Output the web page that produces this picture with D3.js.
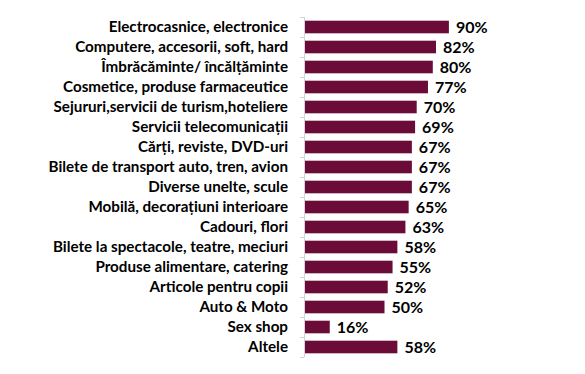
<!DOCTYPE html>
<html>
<head>
<meta charset="utf-8">
<script src="https://cdn.jsdelivr.net/npm/d3@7"></script>
<style>
  body { margin: 0; background: #fff; }
  svg { display: block; }
</style>
</head>
<body>
<svg id="chart" width="585" height="374"></svg>
<script>
const categories = [
    'Electrocasnice, electronice',
    'Computere, accesorii, soft, hard',
    'Îmbrăcăminte/ încălțăminte',
    'Cosmetice, produse farmaceutice',
    'Sejururi,servicii de turism,hoteliere',
    'Servicii telecomunicații',
    'Cărți, reviste, DVD-uri',
    'Bilete de transport auto, tren, avion',
    'Diverse unelte, scule',
    'Mobilă, decorațiuni interioare',
    'Cadouri, flori',
    'Bilete la spectacole, teatre, meciuri',
    'Produse alimentare, catering',
    'Articole pentru copii',
    'Auto & Moto',
    'Sex shop',
    'Altele'
];
const values = [90, 82, 80, 77, 70, 69, 67, 67, 67, 65, 63, 58, 55, 52, 50, 16, 58];

const barColor = '#6a0c37';
const svg = d3.select('#chart');

const x0 = 304;
const x = d3.scaleLinear()
    .domain([0, 100])
    .range([x0, x0 + 161]);

const y = d3.scaleBand()
    .domain(categories)
    .range([17, 357])
    .paddingInner(0.37)
    .paddingOuter(0.185);

// axis line and ticks between bands
svg.append('line')
    .attr('x1', x0 + 0.5).attr('x2', x0 + 0.5)
    .attr('y1', 17).attr('y2', 357)
    .attr('stroke', '#d4d4d4');

const step = y.step();
svg.selectAll('.tick')
    .data(d3.range(categories.length + 1)).enter()
    .append('line')
        .attr('x1', x0 - 4).attr('x2', x0)
        .attr('y1', i => 17 + i * step + 0.5)
        .attr('y2', i => 17 + i * step + 0.5)
        .attr('stroke', '#d4d4d4');

svg.selectAll('.bar')
    .data(values).enter()
    .append('rect')
        .attr('x', x0 + 1)
        .attr('y', (d, i) => y(categories[i]))
        .attr('width', d => x(d) - x0 - 1)
        .attr('height', y.bandwidth())
        .attr('fill', barColor);

svg.selectAll('.label')
    .data(categories).enter()
    .append('text')
        .attr('x', 288)
        .attr('y', d => y(d) + y.bandwidth() / 2)
        .attr('dy', '0.36em')
        .attr('text-anchor', 'end')
        .style('font-family', 'Lato, sans-serif')
        .style('font-weight', 'bold')
        .style('font-size', '15.2px')
        .attr('fill', '#000')
        .text(d => d);

svg.selectAll('.value')
    .data(values).enter()
    .append('text')
        .attr('x', d => x(d) + 7)
        .attr('y', (d, i) => y(categories[i]) + y.bandwidth() / 2)
        .attr('dy', '0.37em')
        .style('font-family', 'Lato, sans-serif')
        .style('font-weight', 'bold')
        .style('font-size', '16px')
        .attr('fill', '#000')
        .text(d => d + '%');
</script>
</body>
</html>
